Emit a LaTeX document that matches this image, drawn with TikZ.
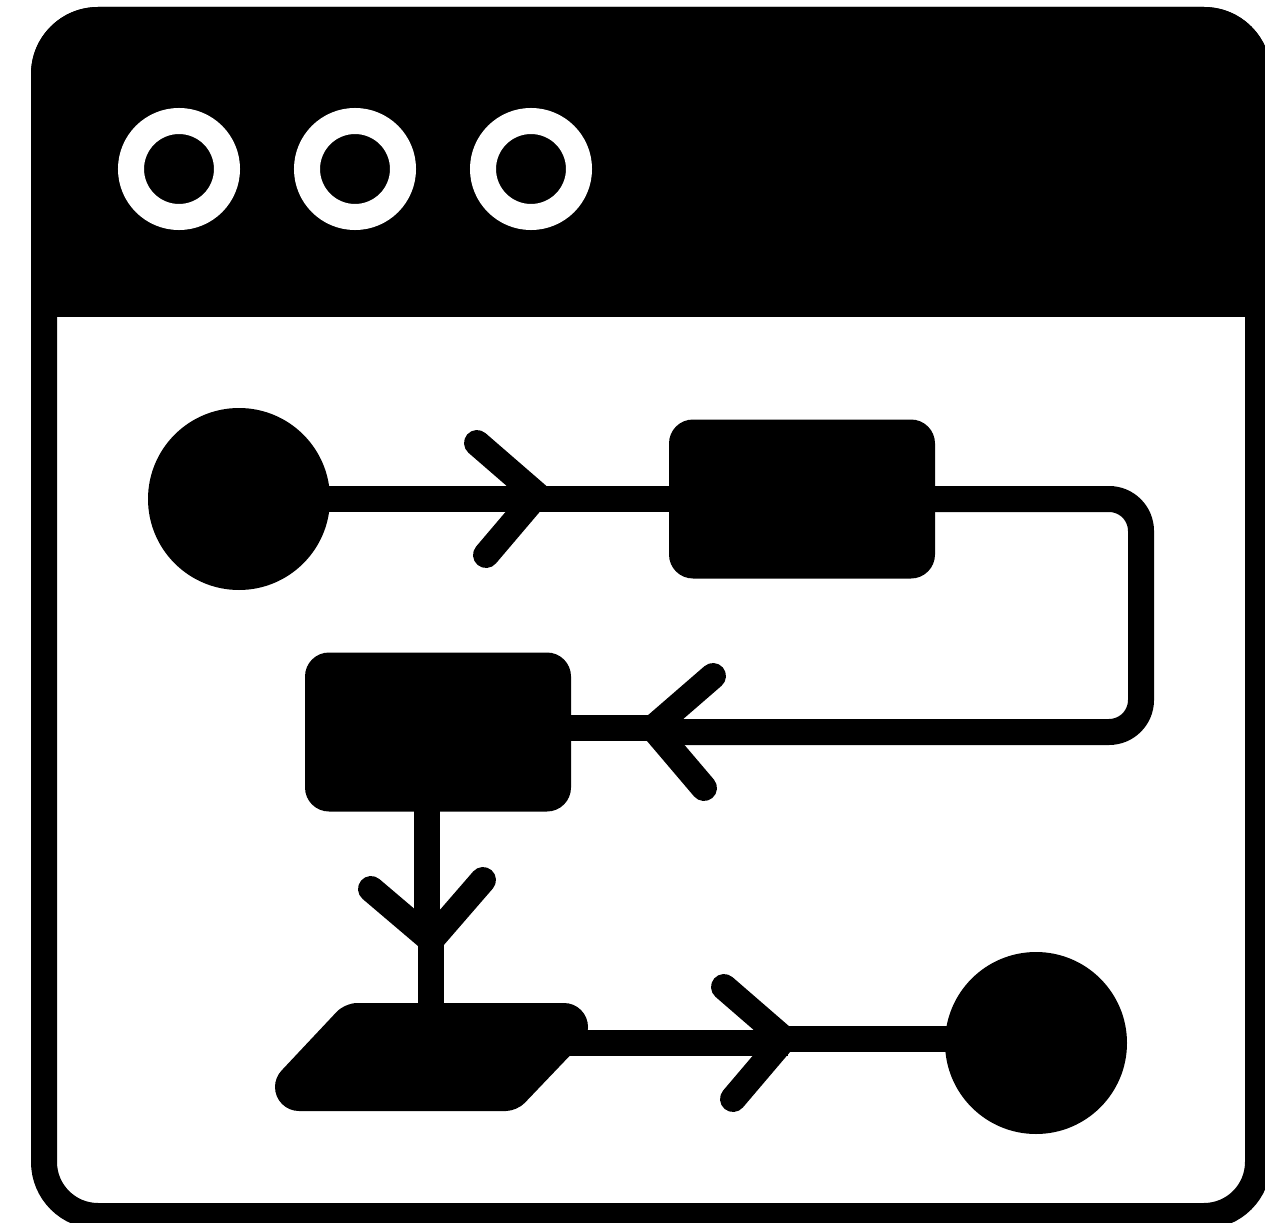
\documentclass[tikz,border=0pt]{standalone}
\usepackage{tikz}

\def\px{0.02cm}
\tikzset{
  terminal/.style={circle, fill=black, inner sep=0pt, outer sep=0pt, minimum size=182*\px},
  stepbox/.style={rectangle, fill=black, inner sep=0pt, outer sep=0pt, rounded corners=24*\px,
    minimum width=266*\px, minimum height=159*\px},
  winbutton/.style={circle, draw=white, fill=black, line width=26*\px, inner sep=0pt, minimum size=96*\px},
  flow/.style={draw=black, line width=26*\px},
  pics/chevron/.style={code={
    \draw[flow, line cap=round, line join=miter] (-60,-52) -- (0,0) -- (-51,60);
  }}
}

\begin{document}
\begin{tikzpicture}[x=\px, y=-\px]
  \useasboundingbox (0,0) rectangle (1265,1223);

  % Window frame
  \draw[flow, rounded corners=54*\px] (44,20) rectangle (1258,1216);

  % Title bar, square at the bottom
  \fill[black] (31,317) -- (31,74) arc[start angle=180, end angle=90, radius=67*\px]
    -- (1204,7) arc[start angle=90, end angle=0, radius=67*\px] -- (1271,317) -- cycle;

  % Window buttons
  \foreach \i/\x in {1/179,2/355,3/531} {
    \node[winbutton] (btn\i) at (\x,169) {};
  }

  % Flow chart shapes
  \node[terminal] (start) at (239,499) {};
  \node[stepbox] (boxa) at (802,499) {};
  \node[stepbox] (boxb) at (438,732) {};
  \node[terminal] (stop) at (1036,1043) {};

  % Slanted input box, big arcs on the two sharp corners
  \coordinate (para) at (431,1057);
  \coordinate (paraout) at (560,1043);
  \fill[black] (299,1111) arc[start angle=270, end angle=136.5, radius=24*\px]
    [rounded corners=12*\px] -- (345,1003)
    [sharp corners] -- (564,1003) arc[start angle=90, end angle=-43.5, radius=24*\px]
    [rounded corners=11*\px] -- (517,1111)
    [sharp corners] -- cycle;

  % Bends of the long connector
  \coordinate (turna) at (1141,499);
  \coordinate (turnb) at (1141,732);

  % The lines shift a little where they pass a chevron
  \coordinate (joga) at (650,732);
  \coordinate (jogb) at (650,728);
  \coordinate (jogc) at (427,940);
  \coordinate (jogd) at (431,940);
  \coordinate (joge) at (788,1043);
  \coordinate (jogf) at (788,1039);

  % Connectors
  \draw[flow] (start.center) -- (boxa.center);
  \draw[flow, rounded corners=32*\px] (boxa.center) -- (turna) -- (turnb) -- (joga);
  \draw[flow] (jogb) -- (jogb -| boxb.center);
  \draw[flow] (jogc |- boxb.center) -- (jogc);
  \draw[flow] (jogd) -- (para);
  \draw[flow] (paraout) -- (joge);
  \draw[flow] (jogf) -- (jogf -| stop.center);

  % Chevrons
  \pic at (537,495) {chevron};
  \pic[xscale=-1] at (653,728) {chevron};
  \pic[rotate=-90] at (431,940) {chevron};
  \pic at (784,1039) {chevron};
\end{tikzpicture}
\end{document}
